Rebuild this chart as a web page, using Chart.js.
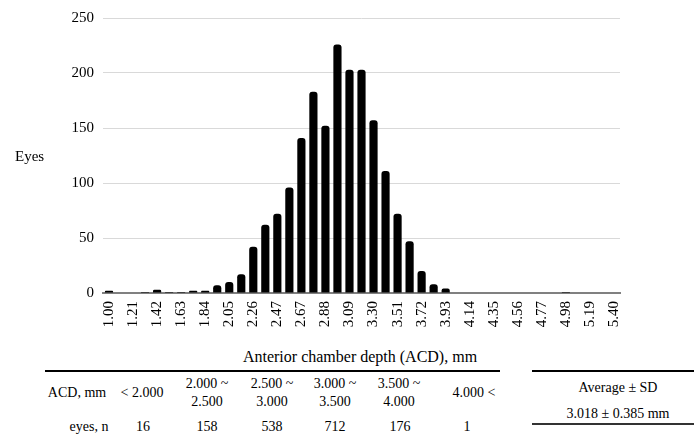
<!DOCTYPE html>
<html>
<head>
<meta charset="utf-8">
<script src="https://cdn.jsdelivr.net/npm/chart.js@4/dist/chart.umd.min.js"></script>
<style>
  html, body { margin: 0; padding: 0; background: #fff; }
  body { width: 694px; height: 437px; position: relative; overflow: hidden;
         font-family: "Liberation Serif", "Times New Roman", serif; color: #000; }
  #wrap { position: absolute; left: 0; top: 0; width: 694px; height: 340px; }
  .t { position: absolute; font-size: 14px; line-height: 18px; white-space: nowrap;
       transform: translate(-50%, -50%); }
  .rule { position: absolute; background: #000; }
</style>
</head>
<body>
<div id="wrap"><canvas id="myChart" width="694" height="340"></canvas></div>

<div class="t" style="left:360px; top:357px; font-size:16px;">Anterior chamber depth (ACD), mm</div>
<div class="rule" style="left:45px; top:370px; width:455px; height:2px;"></div>
<div id="tbl"></div>

<div class="rule" style="left:532px; top:370px; width:162px; height:1.5px;"></div>
<div class="t" style="left:618px; top:388px;">Average ± SD</div>
<div class="t" style="left:618px; top:414px;">3.018 ± 0.385 mm</div>
<div class="rule" style="left:532px; top:423px; width:162px; height:2px; background:#333;"></div>

<script>
// histogram bins (ACD, mm) - every other one is shown on the axis
const binLabels = [
  '1.00', '1.10', '1.21', '1.31', '1.42', '1.52', '1.63', '1.73', '1.84', '1.94',
  '2.05', '2.15', '2.26', '2.36', '2.47', '2.57', '2.67', '2.78', '2.88', '2.99',
  '3.09', '3.20', '3.30', '3.41', '3.51', '3.62', '3.72', '3.83', '3.93', '4.03',
  '4.14', '4.24', '4.35', '4.45', '4.56', '4.66', '4.77', '4.87', '4.98', '5.08',
  '5.19', '5.29', '5.40'
];
const eyeCounts = [
  2, 0, 0, 1, 3, 1, 1, 2, 2, 7,
  10, 17, 42, 62, 72, 96, 141, 183, 152, 226,
  203, 203, 157, 111, 72, 47, 20, 8, 4, 0,
  0, 0, 0, 0, 0, 0, 0, 0, 1, 0,
  0, 0, 0
];
const yTicks = [0, 50, 100, 150, 200, 250];

// summary table under the chart
const groupHeads = [['< 2.000'], ['2.000 ~', '2.500'], ['2.500 ~', '3.000'], ['3.000 ~', '3.500'], ['3.500 ~', '4.000'], ['4.000 <']];
const groupEyes = [16, 158, 538, 712, 176, 1];
const groupX = [142, 207, 272, 335, 399, 474];
const eyesX = [143, 207, 272, 335, 400, 467];

let html = '<div class="t" style="left:77px; top:393px;">ACD, mm</div>' +
           '<div class="t" style="left:89px; top:427px;">eyes, n</div>';
groupHeads.forEach((h, i) => {
  if (h.length === 1) {
    html += '<div class="t" style="left:' + groupX[i] + 'px; top:393px;">' + h[0] + '</div>';
  } else {
    html += '<div class="t" style="left:' + groupX[i] + 'px; top:384px;">' + h[0] + '</div>';
    html += '<div class="t" style="left:' + groupX[i] + 'px; top:402px;">' + h[1] + '</div>';
  }
  html += '<div class="t" style="left:' + eyesX[i] + 'px; top:427px;">' + groupEyes[i] + '</div>';
});
document.getElementById('tbl').innerHTML = html;

const serif = '"Liberation Serif", "Times New Roman", serif';
Chart.defaults.font.family = serif;

// "Eyes" sits horizontally left of the axis
const eyesTitle = {
  id: 'eyesTitle',
  afterDraw(chart) {
    const ctx = chart.ctx;
    ctx.save();
    ctx.font = '15px ' + serif;
    ctx.fillStyle = '#000';
    ctx.textAlign = 'left';
    ctx.textBaseline = 'middle';
    ctx.fillText('Eyes', 15, 157);
    ctx.restore();
  }
};

const ctx = document.getElementById('myChart').getContext('2d');
const myChart = new Chart(ctx, {
  type: 'bar',
  data: {
    labels: binLabels,
    datasets: [{
      label: 'Eyes',
      data: eyeCounts,
      backgroundColor: '#000',
      borderWidth: 0,
      borderRadius: 3,
      borderSkipped: 'start',
      categoryPercentage: 1,
      barPercentage: 0.68
    }]
  },
  options: {
    responsive: false,
    animation: false,
    layout: { padding: { left: 0, right: 74, top: 16, bottom: 0 } },
    scales: {
      x: {
        grid: { display: false, drawTicks: false },
        border: { display: true, color: '#808080', width: 2 },
        ticks: {
          autoSkip: false,
          maxRotation: 90,
          minRotation: 90,
          padding: 8,
          color: '#000',
          font: { family: serif, size: 15 },
          callback: function (val, i) { return i % 2 === 0 ? binLabels[i] : ''; }
        },
        afterFit: (scale) => { scale.height = 47; }
      },
      y: {
        min: 0,
        max: 250,
        afterBuildTicks: (scale) => { scale.ticks = yTicks.map(v => ({ value: v })); },
        grid: { color: '#d9d9d9', lineWidth: 1, drawTicks: false },
        border: { display: false },
        ticks: {
          padding: 9,
          color: '#000',
          font: { family: serif, size: 15 }
        },
        afterFit: (scale) => { scale.width = 103; }
      }
    },
    plugins: {
      legend: { display: false },
      tooltip: { enabled: false }
    }
  },
  plugins: [eyesTitle]
});
</script>
</body>
</html>
